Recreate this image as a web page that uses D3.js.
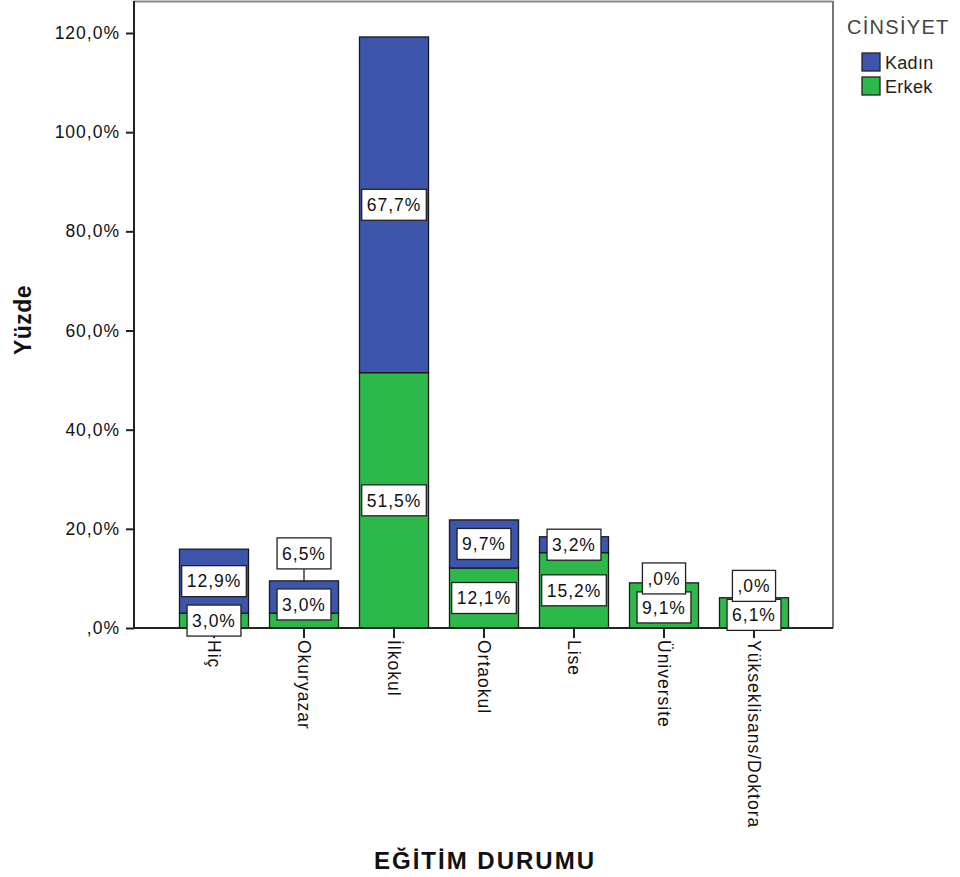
<!DOCTYPE html>
<html>
<head>
<meta charset="utf-8">
<script src="https://cdn.jsdelivr.net/npm/d3@7"></script>
<style>
  body { margin: 0; background: #fff; }
  svg { display: block; font-family: "Liberation Sans", Arial, sans-serif; }
</style>
</head>
<body>
<svg id="chart" width="960" height="877"></svg>
<script>
const categories = ["Hiç", "Okuryazar", "İlkokul", "Ortaokul", "Lise", "Üniversite", "Yükseklisans/Doktora"];
const series = ["Kadın", "Erkek"];
const kadin = [12.9, 6.5, 67.7, 9.7, 3.2, 0.0, 0.0];
const erkek = [3.0, 3.0, 51.5, 12.1, 15.2, 9.1, 6.1];
const yTicks = [0, 20, 40, 60, 80, 100, 120];
const colors = { "Kadın": "#3D56AB", "Erkek": "#2DB84B" };

const svg = d3.select("#chart");
const pLeft = 134, pRight = 833, pTop = 1, pBottom = 628;

const y = d3.scaleLinear().domain([0, 120]).range([pBottom, 33]);
const x = d3.scaleBand().domain(categories).range([169, 799]).paddingInner(0.233).paddingOuter(0.1165);

const fmt = v => (v === 0 ? "" : d3.format("d")(Math.floor(v))) + "," + Math.round((v * 10) % 10) + "%";
const fmtLab = v => { const s = v.toFixed(1).replace(".", ","); return s.startsWith("0") ? s.slice(1) + "%" : s + "%"; };

// frame
svg.append("line").attr("x1", pLeft).attr("x2", pRight).attr("y1", pTop + 0.5).attr("y2", pTop + 0.5).attr("stroke", "#888").attr("stroke-width", 2);
svg.append("line").attr("x1", pRight).attr("x2", pRight).attr("y1", pTop).attr("y2", pBottom).attr("stroke", "#777").attr("stroke-width", 2);

// stack
const rows = categories.map((c, i) => ({ cat: c, "Kadın": kadin[i], "Erkek": erkek[i] }));
const stack = d3.stack().keys(["Erkek", "Kadın"])(rows);

const gBars = svg.append("g");
stack.forEach(layer => {
  gBars.selectAll(null).data(layer).enter().append("rect")
    .attr("x", d => x(d.data.cat))
    .attr("width", x.bandwidth())
    .attr("y", d => y(d[1]))
    .attr("height", d => y(d[0]) - y(d[1]))
    .attr("fill", colors[layer.key])
    .attr("stroke", "#1a1a1a")
    .attr("stroke-width", 1.3);
});

// y axis
const yAxis = d3.axisLeft(y).tickValues(yTicks).tickSize(8).tickPadding(6).tickFormat(fmt);
const gy = svg.append("g").attr("transform", `translate(${pLeft},0)`).call(yAxis);
gy.select(".domain").attr("stroke", "#222").attr("stroke-width", 2).attr("d", `M-0,${pTop}V${pBottom}`);
gy.selectAll(".tick line").attr("stroke", "#222").attr("stroke-width", 2);
gy.selectAll(".tick text").attr("fill", "#111").style("font-size", "17.5px").style("letter-spacing", "1px")
  .style("font-family", "'Liberation Sans', Arial, sans-serif");

// x axis
const xAxis = d3.axisBottom(x).tickSize(10).tickPadding(3);
const gx = svg.append("g").attr("transform", `translate(0,${pBottom})`).call(xAxis);
gx.select(".domain").attr("stroke", "#222").attr("stroke-width", 2).attr("d", `M${pLeft},0H${pRight}`);
gx.selectAll(".tick line").attr("stroke", "#222").attr("stroke-width", 2);
gx.selectAll(".tick text").attr("fill", "#111")
  .style("font-size", "17.5px").style("letter-spacing", "1px")
  .style("font-family", "'Liberation Sans', Arial, sans-serif")
  .attr("text-anchor", "start")
  .attr("transform", "rotate(90)").attr("x", 12).attr("y", 0).attr("dy", "0.35em");

// labels
const boxH = 31;
const gLab = svg.append("g");
function drawLabel(cx, cy, txt) {
  const g = gLab.append("g");
  const r = g.append("rect");
  const t = g.append("text").attr("x", cx).attr("y", cy).attr("text-anchor", "middle").attr("dy", "0.36em")
    .style("font-size", "17.5px").style("letter-spacing", "1px").attr("fill", "#111").text(txt);
  const w = t.node().getComputedTextLength() + 10;
  r.attr("x", cx - w / 2).attr("y", cy - boxH / 2).attr("width", w).attr("height", boxH)
    .attr("fill", "#fff").attr("stroke", "#222").attr("stroke-width", 1.3);
}
rows.forEach((d, i) => {
  const cx = x(d.cat) + x.bandwidth() / 2;
  const e = d["Erkek"], k = d["Kadın"];
  let eY = (y(0) + y(e)) / 2;
  let kY = (y(e) + y(e + k)) / 2;
  const barTop = y(e + k);
  if (kY <= eY && eY - kY < boxH) {
    if (k > 0) {
      kY = barTop - 12 - boxH / 2;
      eY = (y(0) + barTop) / 2;
      gLab.append("line").attr("x1", cx).attr("x2", cx).attr("y1", kY + boxH / 2).attr("y2", barTop)
        .attr("stroke", "#222").attr("stroke-width", 1.3);
    } else {
      eY = eY + 2;
      kY = Math.min(barTop, eY - 29);
    }
  }
  drawLabel(cx, eY, fmtLab(e));
  drawLabel(cx, kY, fmtLab(k));
});

// axis titles
svg.append("text").attr("transform", "translate(31,320) rotate(-90)").attr("text-anchor", "middle")
  .style("font-size", "23px").style("font-weight", "bold").style("letter-spacing", "0.5px").attr("fill", "#111").text("Yüzde");
svg.append("text").attr("x", 485).attr("y", 869).attr("text-anchor", "middle")
  .style("font-size", "24px").style("font-weight", "bold").style("letter-spacing", "2px").attr("fill", "#111").text("EĞİTİM DURUMU");

// legend
const leg = svg.append("g");
leg.append("text").attr("x", 847).attr("y", 34).style("font-size", "20px").style("letter-spacing", "1.3px").attr("fill", "#444").text("CİNSİYET");
series.forEach((s, i) => {
  leg.append("rect").attr("x", 862).attr("y", 53 + i * 24).attr("width", 18).attr("height", 18)
    .attr("fill", colors[s]).attr("stroke", "#222").attr("stroke-width", 1.3);
  leg.append("text").attr("x", 885).attr("y", 69 + i * 24).style("font-size", "18px").style("letter-spacing", "0.3px")
    .attr("fill", "#222").text(s);
});
</script>
</body>
</html>
